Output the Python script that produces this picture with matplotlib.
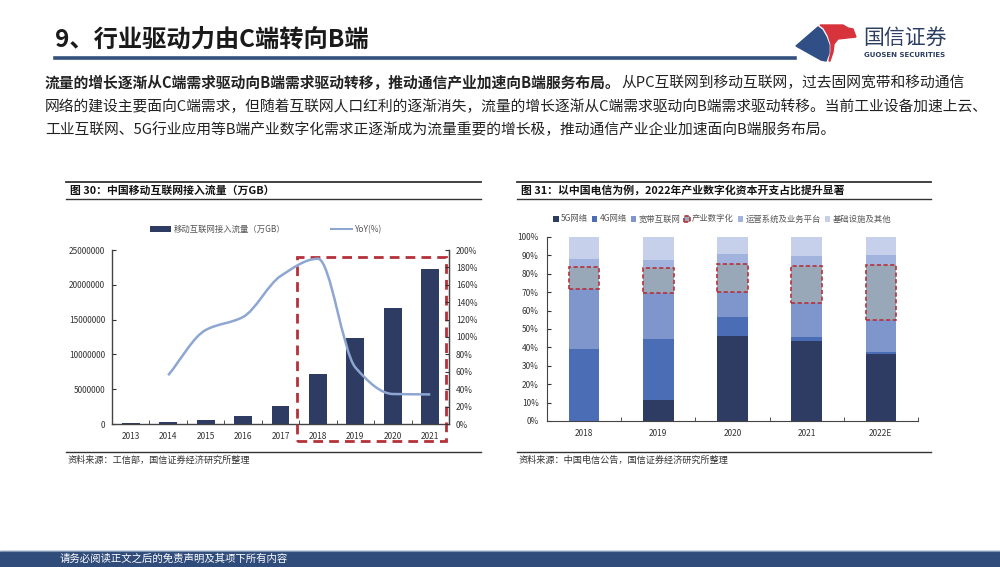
import matplotlib
matplotlib.use('Agg')
import numpy as np
import matplotlib.pyplot as plt
from matplotlib.patches import Rectangle, Polygon, PathPatch
from matplotlib.lines import Line2D
from matplotlib.path import Path

plt.rcParams['font.family'] = ['Noto Sans CJK SC', 'DejaVu Sans']

# ---- data ----
traffic_years = ['2013', '2014', '2015', '2016', '2017', '2018', '2019', '2020', '2021']
traffic = [200000, 320000, 600000, 1100000, 2600000, 7200000, 12400000, 16700000, 22300000]
yoy_years = ['2014', '2015', '2016', '2017', '2018', '2019', '2020', '2021']
yoy = [56, 108, 123, 170, 190, 65, 34.5, 34]

capex_years = ['2018', '2019', '2020', '2021', '2022E']
capex_labels = ['5G网络', '4G网络', '宽带互联网', '产业数字化', '运营系统及业务平台', '基础设施及其他']
capex_5g = [0, 11.6, 46.0, 43.5, 36.6]
capex_4g = [39.0, 33.2, 10.5, 2.1, 0.9]
capex_bb = [33.0, 24.8, 13.5, 18.5, 17.2]
capex_ind = [11.5, 13.7, 15.5, 20.0, 29.9]
capex_ops = [4.3, 4.0, 5.5, 5.5, 5.4]
capex_other = [12.2, 12.7, 9.0, 10.4, 10.0]

W, H = 1000, 567
NAVY = '#2e3b63'
RED = '#b5313a'
TXT = '#222222'
GRAY = '#555555'

fig = plt.figure(figsize=(W / 100, H / 100), dpi=100)


def box(x0, y0, x1, y1):
    return [x0 / W, 1 - y1 / H, (x1 - x0) / W, (y1 - y0) / H]


def ftxt(x, y, s, **kw):
    return fig.text(x / W, 1 - y / H, s, **kw)


def fline(x0, x1, y, **kw):
    fig.add_artist(Line2D([x0 / W, x1 / W], [1 - y / H, 1 - y / H], **kw))


def fpoly(pts, **kw):
    fig.add_artist(Polygon([(px / W, 1 - py / H) for px, py in pts], closed=True, **kw))


def smooth_path(xs, ys):
    # cubic Bezier through the points, shape-preserving tangents
    xs = np.asarray(xs, float)
    ys = np.asarray(ys, float)
    d = np.diff(ys) / np.diff(xs)
    m = np.zeros_like(ys)
    m[0], m[-1] = d[0], d[-1]
    for i in range(1, len(ys) - 1):
        if d[i - 1] * d[i] > 0:
            m[i] = 2 / (1 / d[i - 1] + 1 / d[i])
    verts, codes = [(xs[0], ys[0])], [Path.MOVETO]
    for i in range(len(xs) - 1):
        h = (xs[i + 1] - xs[i]) / 3
        verts += [(xs[i] + h, ys[i] + h * m[i]), (xs[i + 1] - h, ys[i + 1] - h * m[i + 1]),
                  (xs[i + 1], ys[i + 1])]
        codes += [Path.CURVE4] * 3
    return Path(verts, codes)


# ---- header ----
ftxt(55, 40, '9、行业驱动力由C端转向B端', fontsize=17.5, color='#1a1a1a',
     va='center', ha='left', fontweight='bold')
fline(55, 795, 57.5, color='#34507d', linewidth=2.6)

# logo
fpoly([(796, 46), (818, 27), (822, 30), (826, 37), (829, 45), (829, 53), (826, 61),
       (821, 60)], color='#2f4f86')
fpoly([(820, 25), (843, 25), (848, 28), (853, 29), (856, 37), (838, 39), (834, 44),
       (833, 52), (830, 61), (829, 61), (831, 52), (831, 44), (828, 35), (824, 28)],
      color='#d7333d')
ftxt(905, 37.5, '国信证券', fontsize=15, color='#2d3e63', ha='center', va='center',
     fontweight='medium')
ftxt(905, 55, 'GUOSEN SECURITIES', fontsize=5, color='#2d3e63', ha='center', va='center',
     fontweight='bold', family=['DejaVu Sans'])

# ---- body text ----
BODY = 10.65
bold_part = '流量的增长逐渐从C端需求驱动向B端需求驱动转移，推动通信产业加速向B端服务布局。'
t1 = ftxt(45, 83, bold_part, fontsize=BODY, fontweight='bold', color=TXT, va='center')
fig.canvas.draw()
bb = t1.get_window_extent(fig.canvas.get_renderer())
ftxt(bb.x1 + 1, 83, '从PC互联网到移动互联网，过去固网宽带和移动通信', fontsize=BODY,
     color=TXT, va='center')
ftxt(45, 107, '网络的建设主要面向C端需求，但随着互联网人口红利的逐渐消失，流量的增长逐渐从C端需求驱动向B端需求驱动转移。当前工业设备加速上云、',
     fontsize=BODY, color=TXT, va='center')
ftxt(45, 130, '工业互联网、5G行业应用等B端产业数字化需求正逐渐成为流量重要的增长极，推动通信产业企业加速面向B端服务布局。',
     fontsize=BODY, color=TXT, va='center')

# ---- chart frames ----
for x0, x1, title, src in [(66, 481, '图 30：中国移动互联网接入流量（万GB）', '资料来源：工信部，国信证券经济研究所整理'),
                           (517, 931, '图 31：以中国电信为例，2022年产业数字化资本开支占比提升显著',
                            '资料来源：中国电信公告，国信证券经济研究所整理')]:
    fline(x0, x1, 182, color='#333333', linewidth=1.3)
    fline(x0, x1, 199, color='#333333', linewidth=1.0)
    fline(x0, x1, 452, color='#333333', linewidth=1.0)
    ftxt(x0 + 4, 190.5, title, fontsize=7.8, fontweight='bold', color='#111111', va='center')
    ftxt(x0 + 2, 460, src, fontsize=6.6, color='#333333', va='center')

# ---- left chart ----
ax = fig.add_axes(box(112, 250, 449, 424))
x = np.arange(len(traffic_years))
bars = ax.bar(x, traffic, width=0.48, color=NAVY, zorder=2)
ax.set_xlim(-0.5, len(traffic_years) - 0.5)
ax.set_ylim(0, 25000000)
ax.set_yticks(np.arange(0, 25000001, 5000000))
ax.set_yticklabels([str(v) for v in range(0, 25000001, 5000000)])
ax.set_xticks(x)
ax.set_xticklabels(traffic_years)
ax.set_xticks(np.arange(-0.5, len(traffic_years)), minor=True)
ax.tick_params(axis='x', which='major', length=0, labelsize=6, colors='#333333', pad=6)
ax.tick_params(axis='x', which='minor', length=3, direction='in', color='#333333')
ax.tick_params(axis='y', length=3, direction='in', labelsize=6, colors='#333333', pad=5)
ax.spines['top'].set_visible(False)
for s in ['left', 'bottom', 'right']:
    ax.spines[s].set_color('#444444')
    ax.spines[s].set_linewidth(1.0)

ax2 = ax.twinx()
ax2.set_ylim(0, 200)
ax2.set_yticks(np.arange(0, 201, 20))
ax2.set_yticklabels([f'{v}%' for v in range(0, 201, 20)])
ax2.tick_params(axis='y', length=3, direction='in', labelsize=6, colors='#333333', pad=5)
for s in ['top', 'left', 'bottom']:
    ax2.spines[s].set_visible(False)
ax2.spines['right'].set_color('#444444')
yoy_x = [traffic_years.index(y) for y in yoy_years]
ax2.add_patch(PathPatch(smooth_path(yoy_x, yoy), facecolor='none', edgecolor='#8ea6d2',
                        linewidth=1.8, zorder=3))

# highlight box around 2018-2021
i0, i1 = traffic_years.index('2018'), traffic_years.index('2021')
ax.add_patch(Rectangle((i0 - 0.56, -2450000), (i1 + 0.42) - (i0 - 0.56), 24000000 + 2450000,
                       fill=False, edgecolor=RED, linewidth=2.0, linestyle=(0, (3.5, 2.2)),
                       clip_on=False, zorder=5))

line_proxy = Line2D([], [], color='#8ea6d2', linewidth=1.5)
fig.legend([bars, line_proxy], ['移动互联网接入流量（万GB）', 'YoY(%)'], loc='center',
           bbox_to_anchor=(266 / W, 1 - 229.5 / H), ncol=2, frameon=False, fontsize=6,
           handlelength=2.6, handleheight=0.6, handletextpad=0.3, columnspacing=5.4,
           labelcolor=GRAY)

# ---- right chart ----
bx = fig.add_axes(box(547, 237, 918, 421))
xc = np.arange(len(capex_years))
colors = ['#2e3b63', '#4a6db5', '#7f96cd', '#98a8b8', '#a2b3dd', '#c6d0ea']
series = [capex_5g, capex_4g, capex_bb, capex_ind, capex_ops, capex_other]
bottom = np.zeros(len(capex_years))
handles = []
for name, vals, c in zip(capex_labels, series, colors):
    vals = np.array(vals) / 100
    if name == '产业数字化':
        h = bx.bar(xc, vals, bottom=bottom, width=0.41, color=c, edgecolor=RED,
                   linewidth=1.2, linestyle=(0, (2.5, 1.5)), zorder=3)
    else:
        h = bx.bar(xc, vals, bottom=bottom, width=0.41, color=c, zorder=2)
    handles.append(h)
    bottom += vals
bx.set_xlim(-0.5, len(capex_years) - 0.5)
bx.set_ylim(0, 1)
bx.set_yticks(np.arange(0, 1.01, 0.1))
bx.set_yticklabels([f'{v}%' for v in range(0, 101, 10)])
bx.set_xticks(xc)
bx.set_xticklabels(capex_years)
bx.set_xticks(np.arange(-0.5, len(capex_years)), minor=True)
bx.tick_params(axis='x', which='major', length=0, labelsize=6, colors='#333333', pad=6)
bx.tick_params(axis='x', which='minor', length=3, direction='in', color='#333333')
bx.tick_params(axis='y', length=3, direction='in', labelsize=6, colors='#333333', pad=6)
for s in ['top', 'right']:
    bx.spines[s].set_visible(False)
for s in ['left', 'bottom']:
    bx.spines[s].set_color('#444444')

fig.legend(handles, capex_labels, loc='center', bbox_to_anchor=(722 / W, 1 - 219 / H),
           ncol=6, frameon=False, fontsize=6, handlelength=0.7, handleheight=0.7,
           handletextpad=0.25, columnspacing=0.45, labelcolor=GRAY)

# ---- footer ----
fig.add_artist(Rectangle((0, 0), 1, 16 / H, transform=fig.transFigure, color='#2f4c7a'))
fline(0, 1000, 550.5, color='#7f95b8', linewidth=0.8)
ftxt(60, 559, '请务必阅读正文之后的免责声明及其项下所有内容', fontsize=7.5, color='white',
     va='center')

fig.savefig('out.png', dpi=100)
